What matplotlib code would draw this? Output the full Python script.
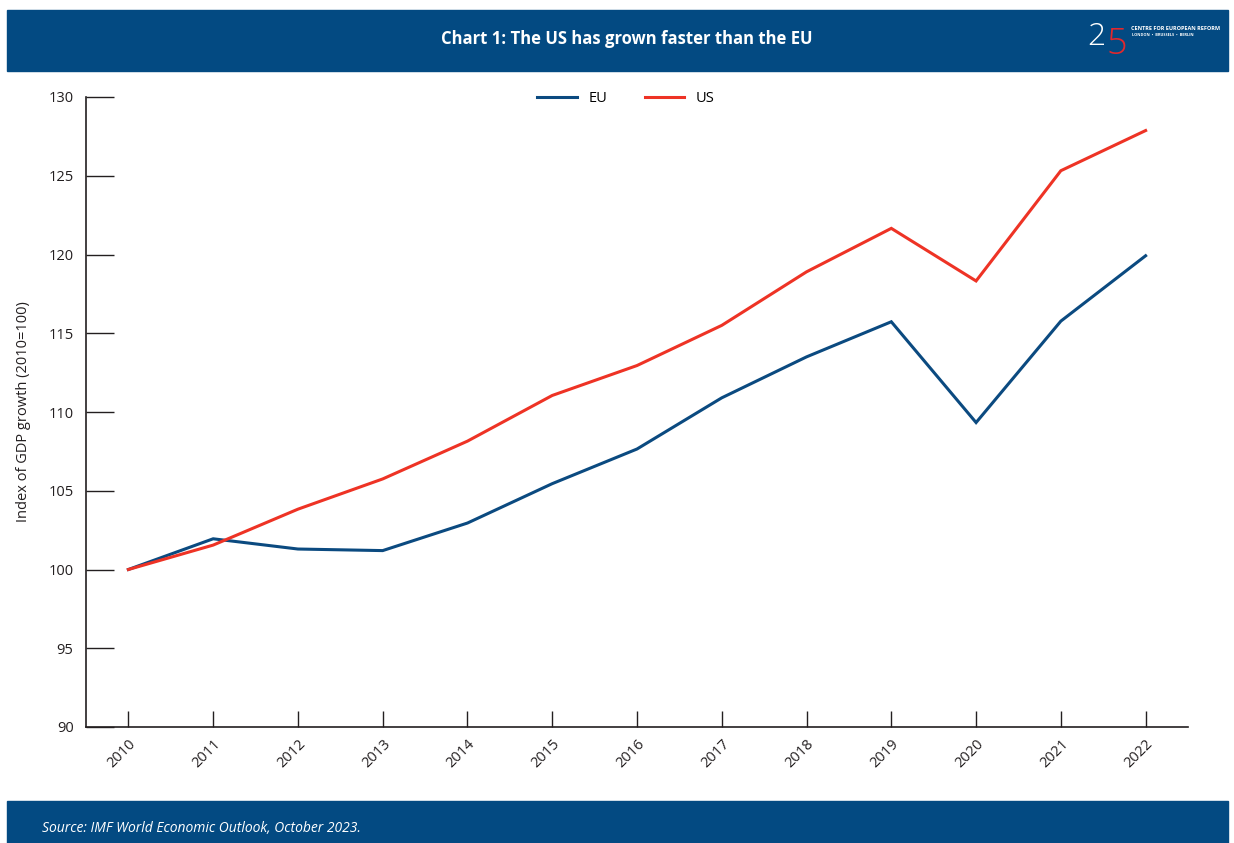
import matplotlib
matplotlib.use("Agg")
import matplotlib.pyplot as plt
from matplotlib import patches

# Data
years = [2010, 2011, 2012, 2013, 2014, 2015, 2016, 2017, 2018, 2019, 2020, 2021, 2022]
eu = [100.0, 101.95, 101.3, 101.2, 102.95, 105.45, 107.65, 110.9, 113.5, 115.73, 109.33, 115.77, 119.92]
us = [100.0, 101.55, 103.83, 105.75, 108.15, 111.05, 112.95, 115.5, 118.9, 121.66, 118.32, 125.32, 127.87]
y_ticks = [90, 95, 100, 105, 110, 115, 120, 125, 130]

title = "Chart 1: The US has grown faster than the EU"
source = "Source: IMF World Economic Outlook, October 2023."
y_label = "Index of GDP growth (2010=100)"

# Colours
navy = "#034a82"
eu_col = "#0b4a80"
us_col = "#ee3325"
ink = "#231f20"

plt.rcParams['font.family'] = ['Open Sans', 'DejaVu Sans']

W, H = 1234, 843
fig = plt.figure(figsize=(W / 100, H / 100), dpi=100)

# Header and footer bars
fig.patches.append(patches.Rectangle((7 / W, 1 - 71 / H), 1221 / W, 61 / H,
                                     transform=fig.transFigure, color=navy, zorder=0))
fig.patches.append(patches.Rectangle((7 / W, 0), 1221 / W, 42 / H,
                                     transform=fig.transFigure, color=navy, zorder=0))
fig.text(627 / W, 1 - 39 / H, title, color="white", fontsize=12, fontweight="bold",
         ha="center", va="center")
fig.text(42 / W, 1 - 828 / H, source, color="white", fontsize=10, style="italic",
         ha="left", va="center")

# Logo (approximate, as text)
fig.text(1096 / W, 1 - 37 / H, "2", color="white", fontsize=23, fontweight="light",
         ha="center", va="center")
fig.text(1117 / W, 1 - 45 / H, "5", color="#e3282d", fontsize=26, fontweight="light",
         ha="center", va="center")
fig.text(1131 / W, 1 - 29 / H, "CENTRE FOR EUROPEAN REFORM", color="white", fontsize=4.0,
         fontweight="bold", ha="left", va="center")
fig.text(1132 / W, 1 - 35 / H, "LONDON  \u2022  BRUSSELS  \u2022  BERLIN", color="white",
         fontsize=2.8, fontweight="bold", ha="left", va="center")

# Main axes
ax = fig.add_axes([86 / W, 1 - 727 / H, 1102 / W, 630 / H])
ax.plot(years, eu, color=eu_col, lw=2.2, label="EU", solid_joinstyle="miter")
ax.plot(years, us, color=us_col, lw=2.2, label="US", solid_joinstyle="miter")

ax.set_xlim(2009.5, 2022.5)
ax.set_ylim(90, 130)
ax.set_yticks(y_ticks)
ax.set_xticks(years)
ax.set_xticklabels([str(y) for y in years], rotation=45, ha="right", va="top",
                   rotation_mode="anchor")

for s in ["top", "right"]:
    ax.spines[s].set_visible(False)
for s in ["left", "bottom"]:
    ax.spines[s].set_color(ink)
    ax.spines[s].set_linewidth(1.2)

ax.tick_params(axis="y", direction="in", length=20, width=1.0, color=ink,
               labelsize=10.5, labelcolor=ink, pad=9)
ax.tick_params(axis="x", direction="in", length=11.5, width=1.0, color=ink,
               labelsize=10.5, labelcolor=ink, pad=7)

ax.set_ylabel(y_label, fontsize=10.5, color=ink, va="center")
ax.yaxis.set_label_coords(-0.057, 0.5)

leg = ax.legend(loc="center", bbox_to_anchor=(0.49, 0.998), ncol=2, frameon=False,
                fontsize=10.5, handlelength=2.7, columnspacing=2.6, handletextpad=0.8)

fig.savefig("out.png", dpi=100)
